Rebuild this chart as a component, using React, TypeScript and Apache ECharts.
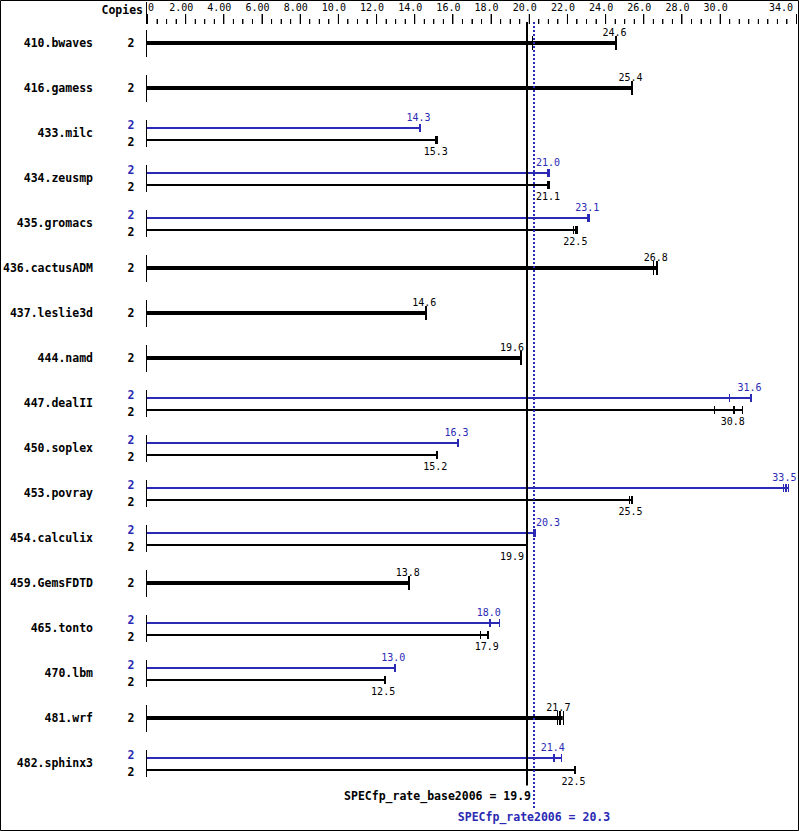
import React, { useEffect, useRef } from 'react';
import * as echarts from 'echarts';

// ---------- data ----------
const benchmarks = [
  '410.bwaves', '416.gamess', '433.milc', '434.zeusmp', '435.gromacs', '436.cactusADM',
  '437.leslie3d', '444.namd', '447.dealII', '450.soplex', '453.povray', '454.calculix',
  '459.GemsFDTD', '465.tonto', '470.lbm', '481.wrf', '482.sphinx3',
];
const baseCopies = [2, 2, 2, 2, 2, 2, 2, 2, 2, 2, 2, 2, 2, 2, 2, 2, 2];
const peakCopies: (number | null)[] = [null, null, 2, 2, 2, null, null, null, 2, 2, 2, 2, null, 2, 2, null, 2];
const baseScores = [24.6, 25.4, 15.3, 21.1, 22.5, 26.8, 14.6, 19.6, 30.8, 15.2, 25.5, 19.9, 13.8, 17.9, 12.5, 21.7, 22.5];
const peakScores: (number | null)[] = [null, null, 14.3, 21.0, 23.1, null, null, null, 31.6, 16.3, 33.5, 20.3, null, 18.0, 13.0, null, 21.4];
const baseRuns: number[][] = [
  [20.15, 24.57], [25.41], [15.07, 15.21], [20.97, 21.07], [22.3, 22.42, 22.52], [26.49, 26.73],
  [14.6], [19.61], [29.69, 30.77, 31.18], [15.18], [25.25, 25.41], [19.89],
  [13.74], [17.46, 17.88], [12.45], [21.48, 21.63, 21.78], [22.42],
];
const peakRuns: (number[] | null)[] = [
  null, null, [14.3], [20.93, 21.06], [23.03, 23.14], null,
  null, null, [30.47, 31.64], [16.29], [33.3, 33.47, 33.6], [20.2, 20.32],
  null, [17.9, 17.98, 18.44], [12.98], null, [21.34, 21.69],
];
const specBase = 19.9;
const specPeak = 20.3;
const axisMin = 0;
const axisMax = 34;
const minorStep = 0.5;
const tickLabelValues = [0, 2, 4, 6, 8, 10, 12, 14, 16, 18, 20, 22, 24, 26, 28, 30, 34];
const tickLabels = ['0', '2.00', '4.00', '6.00', '8.00', '10.0', '12.0', '14.0', '16.0', '18.0', '20.0', '22.0', '24.0', '26.0', '28.0', '30.0', '34.0'];

// ---------- layout / style ----------
const ROW_MIN = -19 / 45;
const ROW_MAX = 16.5;
const BLACK = '#000000';
const BLUE = '#2a2ab4';
const MONO = '"DejaVu Sans Mono", "Liberation Mono", monospace';
const FONT_BOLD = `bold 11.5px ${MONO}`;
const FONT_VAL = `10px ${MONO}`;

const tickValues: number[] = [];
for (let k = 0; k <= Math.round((axisMax - axisMin) / minorStep); k++) tickValues.push(axisMin + k * minorStep);
const majorTicks = tickValues.filter((v) => tickLabelValues.includes(v));
const minorTicks = tickValues.filter((v) => !tickLabelValues.includes(v));

function labelCenter(api: any, x: number, text: string) {
  const half = (text.length * 6.02) / 2;
  let c = x - 1.5;
  const xb = Math.round(api.coord([specBase, 0])[0]);
  const xp = Math.round(api.coord([specPeak, 0])[0]);
  if (c + half > xb - 3 && c - half < xp + 2) {
    c = c < (xb + xp) / 2 ? xb - 3 - half : xp + 2 + half;
  }
  return c;
}

function runElements(api: any, runs: number[], score: number, row: number, dy: number, color: string,
  barWidth: number, tickHalf: number, labelDy: number) {
  const els: any[] = [];
  const [x0, yc] = api.coord([0, row]);
  const y = Math.round(yc) + dy;
  const maxRun = Math.max(...runs);
  const xEnd = api.coord([maxRun, row])[0];
  els.push({ type: 'line', shape: { x1: x0, y1: y, x2: xEnd, y2: y }, style: { stroke: color, lineWidth: barWidth } });
  let mi = 0;
  runs.forEach((r, k) => { if (Math.abs(r - score) < Math.abs(runs[mi] - score)) mi = k; });
  runs.forEach((r, k) => {
    const x = api.coord([r, row])[0];
    const w = k === mi ? 2 : 1;
    const xx = w === 1 ? Math.round(x) + 0.5 : Math.round(x);
    els.push({ type: 'line', shape: { x1: xx, y1: y - tickHalf, x2: xx, y2: y + tickHalf }, style: { stroke: color, lineWidth: w } });
  });
  const xm = api.coord([runs[mi], row])[0];
  const text = score.toFixed(1);
  els.push({
    type: 'text', x: labelCenter(api, xm, text), y: y + labelDy,
    style: { text, fill: color, font: FONT_VAL, align: 'center', verticalAlign: 'middle' },
  });
  return els;
}

function renderAxis(params: any, api: any) {
  const [x0, yAxis] = api.coord([axisMin, ROW_MIN]);
  const yy = Math.round(yAxis);
  const els: any[] = [];
  els.push({ type: 'line', shape: { x1: Math.round(x0) - 0.5, y1: 2, x2: Math.round(x0) - 0.5, y2: yy }, style: { stroke: BLACK, lineWidth: 1 } });
  tickValues.forEach((v) => {
    const len = tickLabelValues.includes(v) ? 10 : 5;
    const xx = Math.round(api.coord([v, ROW_MIN])[0]) + 0.5;
    els.push({ type: 'line', shape: { x1: xx, y1: yy - len, x2: xx, y2: yy }, style: { stroke: BLACK, lineWidth: 1 } });
  });
  tickLabelValues.forEach((v, k) => {
    const x = api.coord([v, ROW_MIN])[0];
    const first = k === 0;
    const last = k === tickLabelValues.length - 1;
    els.push({
      type: 'text', x: first ? x + 1 : last ? x - 3 : x - 4, y: yy - 17,
      style: { text: tickLabels[k], fill: BLACK, font: FONT_VAL, align: first ? 'left' : last ? 'right' : 'center', verticalAlign: 'middle' },
    });
  });
  els.push({ type: 'text', x: x0 - 4, y: yy - 14, style: { text: 'Copies', fill: BLACK, font: FONT_BOLD, align: 'right', verticalAlign: 'middle' } });
  return { type: 'group', children: els };
}

function renderRow(params: any, api: any) {
  const i = api.value(1);
  const [x0, ycRaw] = api.coord([0, i]);
  const yc = Math.round(ycRaw);
  const children: any[] = [];
  children.push({ type: 'line', shape: { x1: x0 - 0.5, y1: yc - 13, x2: x0 - 0.5, y2: yc + 14 }, style: { stroke: BLACK, lineWidth: 1 } });
  children.push({
    type: 'text', x: x0 - 54, y: yc,
    style: { text: benchmarks[i], fill: BLACK, font: FONT_BOLD, align: 'right', verticalAlign: 'middle' },
  });
  const pr = peakRuns[i];
  const ps = peakScores[i];
  if (pr && ps != null) {
    children.push(...runElements(api, pr, ps, i, -5, BLUE, 2, 4, -11));
    children.push(...runElements(api, baseRuns[i], baseScores[i], i, 7, BLACK, 2, 4, 11));
    children.push({ type: 'text', x: x0 - 16, y: yc - 8, style: { text: String(peakCopies[i]), fill: BLUE, font: FONT_BOLD, align: 'center', verticalAlign: 'middle' } });
    children.push({ type: 'text', x: x0 - 16, y: yc + 9, style: { text: String(baseCopies[i]), fill: BLACK, font: FONT_BOLD, align: 'center', verticalAlign: 'middle' } });
  } else {
    children.push(...runElements(api, baseRuns[i], baseScores[i], i, 0, BLACK, 4, 7, -11));
    children.push({ type: 'text', x: x0 - 16, y: yc, style: { text: String(baseCopies[i]), fill: BLACK, font: FONT_BOLD, align: 'center', verticalAlign: 'middle' } });
  }
  return { type: 'group', children };
}

function renderRef(params: any, api: any) {
  const v = api.value(0);
  const kind = api.value(1);
  const [x, yTop] = api.coord([v, ROW_MIN]);
  const yBot = api.coord([v, ROW_MAX])[1];
  const xx = Math.round(x);
  if (kind === 0) {
    return {
      type: 'group', children: [
        { type: 'line', shape: { x1: xx, y1: yTop - 2, x2: xx, y2: yBot }, style: { stroke: BLACK, lineWidth: 2 } },
        { type: 'text', x: xx + 4, y: yBot + 10, style: { text: `SPECfp_rate_base2006 = ${v.toFixed(1)}`, fill: BLACK, font: FONT_BOLD, align: 'right', verticalAlign: 'middle' } },
      ],
    };
  }
  const yExt = api.coord([v, ROW_MAX + 0.5])[1];
  return {
    type: 'group', children: [
      { type: 'line', shape: { x1: xx, y1: yTop - 2, x2: xx, y2: yExt }, style: { stroke: BLUE, lineWidth: 2, lineDash: [2, 2] } },
      { type: 'text', x: xx, y: yExt + 9, style: { text: `SPECfp_rate2006 = ${v.toFixed(1)}`, fill: BLUE, font: FONT_BOLD, align: 'center', verticalAlign: 'middle' } },
    ],
  };
}

export default function App() {
  const ref = useRef<HTMLDivElement>(null);
  useEffect(() => {
    document.body.style.margin = '0';
    if (!ref.current) return;
    const chart = echarts.init(ref.current, null, { renderer: 'svg' });
    chart.setOption({
      animation: false,
      backgroundColor: '#ffffff',
      grid: { left: 147, right: 3, top: 24, bottom: 45.5, containLabel: false },
      xAxis: { type: 'value', position: 'top', min: axisMin, max: axisMax, show: false },
      yAxis: { type: 'value', inverse: true, min: ROW_MIN, max: ROW_MAX, show: false },
      graphic: [
        { type: 'rect', z: 100, shape: { x: 0.5, y: 0.5, width: 798, height: 830 }, style: { fill: 'transparent', stroke: BLACK, lineWidth: 1 }, silent: true },
      ],
      series: [
        {
          type: 'scatter', clip: false, silent: true, z: 20,
          symbol: 'rect', symbolSize: [1, 10], symbolOffset: [0.5, -5],
          itemStyle: { color: BLACK, opacity: 1 },
          data: majorTicks.map((v) => [v, ROW_MIN]),
        },
        {
          type: 'scatter', clip: false, silent: true, z: 20,
          symbol: 'rect', symbolSize: [1, 5], symbolOffset: [0.5, -2.5],
          itemStyle: { color: BLACK, opacity: 1 },
          data: minorTicks.map((v) => [v, ROW_MIN]),
        },
        {
          type: 'custom', clip: false, z: 10, renderItem: renderAxis,
          data: [[axisMin, ROW_MIN]], encode: { x: 0, y: 1 },
        },
        {
          type: 'custom', clip: false, renderItem: renderRow,
          data: benchmarks.map((_, i) => [0, i]), encode: { x: 0, y: 1 },
        },
        {
          type: 'custom', clip: false, renderItem: renderRef,
          data: [[specBase, 0], [specPeak, 1]], encode: { x: 0 },
        },
      ],
    });
    return () => chart.dispose();
  }, []);
  return <div ref={ref} style={{ width: 799, height: 831 }} />;
}
